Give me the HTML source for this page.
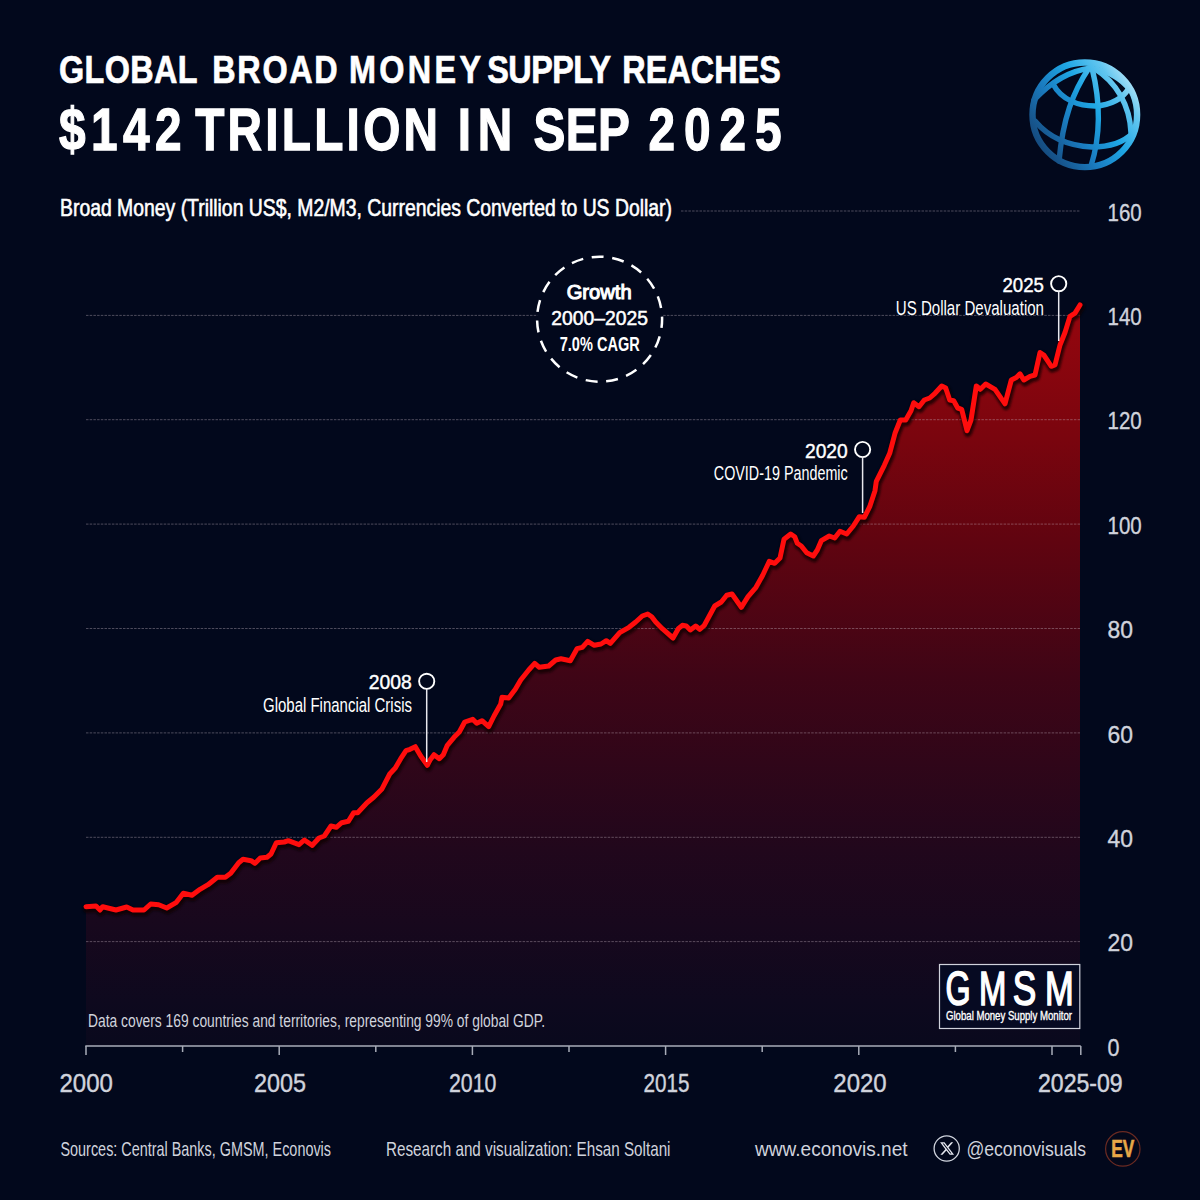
<!DOCTYPE html>
<html><head><meta charset="utf-8"><style>
html,body{margin:0;padding:0;background:#02081c;width:1200px;height:1200px;overflow:hidden}
svg{display:block}
text{font-family:"Liberation Sans", sans-serif}
</style></head><body>
<svg width="1200" height="1200" viewBox="0 0 1200 1200">
<defs>
<filter id="blur1" x="-5%" y="-5%" width="110%" height="110%"><feGaussianBlur stdDeviation="1"/></filter>
<linearGradient id="fillg" x1="0" y1="305" x2="0" y2="1046" gradientUnits="userSpaceOnUse">
<stop offset="0" stop-color="rgb(150,6,14)"/>
<stop offset="0.18" stop-color="rgb(122,5,14)"/>
<stop offset="0.32" stop-color="rgb(96,4,16)"/>
<stop offset="0.5" stop-color="rgb(63,5,22)"/>
<stop offset="0.735" stop-color="rgb(33,7,28)"/>
<stop offset="0.94" stop-color="rgb(14,9,30)"/>
<stop offset="1" stop-color="rgb(9,9,29)"/>
</linearGradient>
<linearGradient id="globeg" x1="1140" y1="75" x2="1030" y2="150" gradientUnits="userSpaceOnUse">
<stop offset="0" stop-color="#d8f2fc"/>
<stop offset="0.2" stop-color="#62c6f0"/>
<stop offset="0.42" stop-color="#1ea6e4"/>
<stop offset="0.65" stop-color="#1a7cc0"/>
<stop offset="0.85" stop-color="#17578f"/>
<stop offset="1" stop-color="#134070"/>
</linearGradient>
</defs>
<rect width="1200" height="1200" fill="#02081c"/>
<path d="M86.0,906.7 L96.0,906.0 L100.0,910.0 L102.7,906.7 L116.0,910.0 L126.7,907.0 L133.0,910.0 L144.0,910.0 L150.7,904.0 L158.7,904.7 L166.7,908.0 L176.0,902.7 L183.3,893.3 L192.0,895.3 L200.0,889.3 L208.0,884.7 L217.3,877.3 L225.3,877.3 L230.7,873.3 L238.7,862.7 L243.0,859.3 L251.0,860.7 L255.0,863.3 L260.3,858.0 L267.0,857.3 L271.0,854.0 L276.3,842.7 L284.3,842.0 L288.3,840.7 L299.0,844.7 L304.3,840.0 L312.3,845.3 L319.0,838.0 L324.3,836.0 L331.0,826.0 L336.3,827.3 L341.7,822.7 L348.3,821.3 L353.7,812.7 L357.7,812.7 L367.0,802.7 L373.7,797.3 L381.7,789.3 L389.7,774.0 L395.3,768.0 L400.7,758.7 L406.0,750.7 L410.0,749.3 L415.3,746.7 L420.7,756.0 L427.3,765.3 L430.0,760.0 L434.0,754.7 L439.3,758.7 L443.3,754.7 L447.3,745.3 L454.0,737.3 L459.3,732.0 L464.7,722.0 L472.7,719.3 L476.7,723.3 L482.0,720.7 L488.7,726.7 L494.0,716.0 L500.7,704.0 L502.0,697.3 L508.7,698.0 L515.3,689.3 L520.7,680.0 L528.7,670.0 L534.7,663.3 L539.3,667.3 L548.7,666.0 L555.7,660.0 L561.0,658.7 L570.3,660.7 L577.0,648.7 L582.3,647.3 L587.7,641.3 L594.3,645.3 L601.0,644.0 L606.3,640.7 L610.3,643.3 L619.7,632.7 L629.0,627.3 L635.7,622.0 L642.3,616.0 L647.7,614.0 L651.7,616.7 L655.7,622.0 L662.3,628.7 L673.0,638.0 L678.3,628.7 L682.3,625.3 L686.3,626.0 L690.3,630.0 L695.7,626.0 L699.7,629.3 L704.3,625.3 L714.7,606.0 L721.3,602.0 L726.7,595.3 L732.0,594.0 L741.3,607.3 L748.0,596.7 L756.0,587.3 L762.7,575.3 L769.3,561.3 L774.7,563.3 L780.0,558.0 L784.0,539.3 L790.7,534.0 L794.7,536.7 L797.3,543.3 L801.3,546.0 L806.7,552.7 L813.3,556.0 L817.3,550.0 L821.3,540.7 L829.3,536.0 L834.7,538.0 L840.0,531.3 L846.7,534.0 L853.3,526.0 L859.3,516.7 L864.3,517.3 L869.7,506.7 L875.0,490.7 L876.3,481.3 L884.3,465.3 L889.7,453.3 L895.0,433.3 L900.3,420.0 L905.7,420.0 L911.0,410.7 L913.7,402.7 L919.0,406.7 L924.3,400.0 L929.7,398.0 L935.0,393.3 L941.7,386.0 L945.7,388.0 L949.7,400.0 L953.7,400.7 L957.7,408.0 L961.7,409.3 L967.0,430.7 L971.0,420.0 L976.3,386.0 L980.3,389.3 L985.7,384.0 L995.0,389.3 L1005.0,403.8 L1011.3,380.0 L1016.3,377.5 L1020.0,373.8 L1023.8,380.0 L1030.0,376.3 L1035.0,375.0 L1040.0,352.5 L1043.8,355.0 L1051.3,366.3 L1055.0,365.0 L1060.0,345.0 L1065.0,332.5 L1070.0,316.3 L1075.0,313.1 L1080.0,305.0 L1080,1046 L86,1046 Z" fill="url(#fillg)"/>
<g stroke="#c8b8c4" stroke-width="1" stroke-dasharray="2.5 1.2" opacity="0.38">
<line x1="681" y1="211" x2="1080" y2="211" /><line x1="86" y1="315.4" x2="1080" y2="315.4" /><line x1="86" y1="419.7" x2="1080" y2="419.7" /><line x1="86" y1="524.1" x2="1080" y2="524.1" /><line x1="86" y1="628.5" x2="1080" y2="628.5" /><line x1="86" y1="732.9" x2="1080" y2="732.9" /><line x1="86" y1="837.3" x2="1080" y2="837.3" /><line x1="86" y1="941.6" x2="1080" y2="941.6" />
</g>
<path d="M86.0,906.7 L96.0,906.0 L100.0,910.0 L102.7,906.7 L116.0,910.0 L126.7,907.0 L133.0,910.0 L144.0,910.0 L150.7,904.0 L158.7,904.7 L166.7,908.0 L176.0,902.7 L183.3,893.3 L192.0,895.3 L200.0,889.3 L208.0,884.7 L217.3,877.3 L225.3,877.3 L230.7,873.3 L238.7,862.7 L243.0,859.3 L251.0,860.7 L255.0,863.3 L260.3,858.0 L267.0,857.3 L271.0,854.0 L276.3,842.7 L284.3,842.0 L288.3,840.7 L299.0,844.7 L304.3,840.0 L312.3,845.3 L319.0,838.0 L324.3,836.0 L331.0,826.0 L336.3,827.3 L341.7,822.7 L348.3,821.3 L353.7,812.7 L357.7,812.7 L367.0,802.7 L373.7,797.3 L381.7,789.3 L389.7,774.0 L395.3,768.0 L400.7,758.7 L406.0,750.7 L410.0,749.3 L415.3,746.7 L420.7,756.0 L427.3,765.3 L430.0,760.0 L434.0,754.7 L439.3,758.7 L443.3,754.7 L447.3,745.3 L454.0,737.3 L459.3,732.0 L464.7,722.0 L472.7,719.3 L476.7,723.3 L482.0,720.7 L488.7,726.7 L494.0,716.0 L500.7,704.0 L502.0,697.3 L508.7,698.0 L515.3,689.3 L520.7,680.0 L528.7,670.0 L534.7,663.3 L539.3,667.3 L548.7,666.0 L555.7,660.0 L561.0,658.7 L570.3,660.7 L577.0,648.7 L582.3,647.3 L587.7,641.3 L594.3,645.3 L601.0,644.0 L606.3,640.7 L610.3,643.3 L619.7,632.7 L629.0,627.3 L635.7,622.0 L642.3,616.0 L647.7,614.0 L651.7,616.7 L655.7,622.0 L662.3,628.7 L673.0,638.0 L678.3,628.7 L682.3,625.3 L686.3,626.0 L690.3,630.0 L695.7,626.0 L699.7,629.3 L704.3,625.3 L714.7,606.0 L721.3,602.0 L726.7,595.3 L732.0,594.0 L741.3,607.3 L748.0,596.7 L756.0,587.3 L762.7,575.3 L769.3,561.3 L774.7,563.3 L780.0,558.0 L784.0,539.3 L790.7,534.0 L794.7,536.7 L797.3,543.3 L801.3,546.0 L806.7,552.7 L813.3,556.0 L817.3,550.0 L821.3,540.7 L829.3,536.0 L834.7,538.0 L840.0,531.3 L846.7,534.0 L853.3,526.0 L859.3,516.7 L864.3,517.3 L869.7,506.7 L875.0,490.7 L876.3,481.3 L884.3,465.3 L889.7,453.3 L895.0,433.3 L900.3,420.0 L905.7,420.0 L911.0,410.7 L913.7,402.7 L919.0,406.7 L924.3,400.0 L929.7,398.0 L935.0,393.3 L941.7,386.0 L945.7,388.0 L949.7,400.0 L953.7,400.7 L957.7,408.0 L961.7,409.3 L967.0,430.7 L971.0,420.0 L976.3,386.0 L980.3,389.3 L985.7,384.0 L995.0,389.3 L1005.0,403.8 L1011.3,380.0 L1016.3,377.5 L1020.0,373.8 L1023.8,380.0 L1030.0,376.3 L1035.0,375.0 L1040.0,352.5 L1043.8,355.0 L1051.3,366.3 L1055.0,365.0 L1060.0,345.0 L1065.0,332.5 L1070.0,316.3 L1075.0,313.1 L1080.0,305.0" fill="none" stroke="#100004" stroke-width="8" stroke-linejoin="round" stroke-linecap="round" transform="translate(1,2.2)" opacity="0.75" filter="url(#blur1)"/>
<path d="M86.0,906.7 L96.0,906.0 L100.0,910.0 L102.7,906.7 L116.0,910.0 L126.7,907.0 L133.0,910.0 L144.0,910.0 L150.7,904.0 L158.7,904.7 L166.7,908.0 L176.0,902.7 L183.3,893.3 L192.0,895.3 L200.0,889.3 L208.0,884.7 L217.3,877.3 L225.3,877.3 L230.7,873.3 L238.7,862.7 L243.0,859.3 L251.0,860.7 L255.0,863.3 L260.3,858.0 L267.0,857.3 L271.0,854.0 L276.3,842.7 L284.3,842.0 L288.3,840.7 L299.0,844.7 L304.3,840.0 L312.3,845.3 L319.0,838.0 L324.3,836.0 L331.0,826.0 L336.3,827.3 L341.7,822.7 L348.3,821.3 L353.7,812.7 L357.7,812.7 L367.0,802.7 L373.7,797.3 L381.7,789.3 L389.7,774.0 L395.3,768.0 L400.7,758.7 L406.0,750.7 L410.0,749.3 L415.3,746.7 L420.7,756.0 L427.3,765.3 L430.0,760.0 L434.0,754.7 L439.3,758.7 L443.3,754.7 L447.3,745.3 L454.0,737.3 L459.3,732.0 L464.7,722.0 L472.7,719.3 L476.7,723.3 L482.0,720.7 L488.7,726.7 L494.0,716.0 L500.7,704.0 L502.0,697.3 L508.7,698.0 L515.3,689.3 L520.7,680.0 L528.7,670.0 L534.7,663.3 L539.3,667.3 L548.7,666.0 L555.7,660.0 L561.0,658.7 L570.3,660.7 L577.0,648.7 L582.3,647.3 L587.7,641.3 L594.3,645.3 L601.0,644.0 L606.3,640.7 L610.3,643.3 L619.7,632.7 L629.0,627.3 L635.7,622.0 L642.3,616.0 L647.7,614.0 L651.7,616.7 L655.7,622.0 L662.3,628.7 L673.0,638.0 L678.3,628.7 L682.3,625.3 L686.3,626.0 L690.3,630.0 L695.7,626.0 L699.7,629.3 L704.3,625.3 L714.7,606.0 L721.3,602.0 L726.7,595.3 L732.0,594.0 L741.3,607.3 L748.0,596.7 L756.0,587.3 L762.7,575.3 L769.3,561.3 L774.7,563.3 L780.0,558.0 L784.0,539.3 L790.7,534.0 L794.7,536.7 L797.3,543.3 L801.3,546.0 L806.7,552.7 L813.3,556.0 L817.3,550.0 L821.3,540.7 L829.3,536.0 L834.7,538.0 L840.0,531.3 L846.7,534.0 L853.3,526.0 L859.3,516.7 L864.3,517.3 L869.7,506.7 L875.0,490.7 L876.3,481.3 L884.3,465.3 L889.7,453.3 L895.0,433.3 L900.3,420.0 L905.7,420.0 L911.0,410.7 L913.7,402.7 L919.0,406.7 L924.3,400.0 L929.7,398.0 L935.0,393.3 L941.7,386.0 L945.7,388.0 L949.7,400.0 L953.7,400.7 L957.7,408.0 L961.7,409.3 L967.0,430.7 L971.0,420.0 L976.3,386.0 L980.3,389.3 L985.7,384.0 L995.0,389.3 L1005.0,403.8 L1011.3,380.0 L1016.3,377.5 L1020.0,373.8 L1023.8,380.0 L1030.0,376.3 L1035.0,375.0 L1040.0,352.5 L1043.8,355.0 L1051.3,366.3 L1055.0,365.0 L1060.0,345.0 L1065.0,332.5 L1070.0,316.3 L1075.0,313.1 L1080.0,305.0" fill="none" stroke="#ff0d0d" stroke-width="5" stroke-linejoin="round" stroke-linecap="round"/>
<g stroke="#a8acb8" stroke-width="1.5">
<line x1="85.3" y1="1046" x2="1080.8" y2="1046"/>
<line x1="86.0" y1="1046" x2="86.0" y2="1055" /><line x1="182.6" y1="1046" x2="182.6" y2="1052" /><line x1="279.2" y1="1046" x2="279.2" y2="1055" /><line x1="375.8" y1="1046" x2="375.8" y2="1052" /><line x1="472.4" y1="1046" x2="472.4" y2="1055" /><line x1="569.0" y1="1046" x2="569.0" y2="1052" /><line x1="665.6" y1="1046" x2="665.6" y2="1055" /><line x1="762.2" y1="1046" x2="762.2" y2="1052" /><line x1="858.8" y1="1046" x2="858.8" y2="1055" /><line x1="955.4" y1="1046" x2="955.4" y2="1052" /><line x1="1052.0" y1="1046" x2="1052.0" y2="1055" /><line x1="1080.8" y1="1046" x2="1080.8" y2="1055" />
</g>
<circle cx="426.7" cy="681.3" r="7.6" fill="none" stroke="#fff" stroke-width="1.9"/><line x1="426.7" y1="688.9" x2="426.7" y2="762" stroke="#e8e8ee" stroke-width="1.5"/>
<circle cx="862.6" cy="449.5" r="7.6" fill="none" stroke="#fff" stroke-width="1.9"/><line x1="862.6" y1="457.1" x2="862.6" y2="513" stroke="#e8e8ee" stroke-width="1.5"/>
<circle cx="1058.7" cy="283.7" r="7.6" fill="none" stroke="#fff" stroke-width="1.9"/><line x1="1058.7" y1="291.3" x2="1058.7" y2="341" stroke="#e8e8ee" stroke-width="1.5"/>
<circle cx="599.6" cy="319.2" r="62.5" fill="#02081c" stroke="#fff" stroke-width="2.5" stroke-dasharray="12 8.67" stroke-dashoffset="3.3"/>
<rect x="939.5" y="964.5" width="140.3" height="64" fill="#060a22" stroke="#d0d2dc" stroke-width="1.2"/>
<g fill="none" stroke="url(#globeg)" stroke-width="5.4" stroke-linecap="round">
<circle cx="1084.8" cy="114.8" r="52.3" stroke-width="6.4"/>
<path d="M1091,68 Q1060,72 1034,100"/>
<path d="M1094,69 C1108,71 1122,79 1130,90"/>
<path d="M1053,84 C1062,101 1080,106 1095,106 C1112,105 1123,98 1129,88"/>
<path d="M1035,121 C1050,139 1070,146 1092,147 C1112,147 1125,141 1133,133"/>
<path d="M1092,68 C1098,92 1103,128 1091,166"/>
<path d="M1089,68 C1073,92 1063,118 1059,161"/>
<path d="M1095,69 C1116,82 1130,105 1131,133"/>
</g>
<circle cx="946.7" cy="1148.5" r="12.6" fill="none" stroke="#d0d4de" stroke-width="1.3"/>
<path transform="translate(939.3,1140.8) scale(0.645)" fill="#e6e8f0" d="M18.244 2.25h3.308l-7.227 8.26 8.502 11.24H16.17l-5.214-6.817L4.99 21.75H1.68l7.73-8.835L1.254 2.25H8.08l4.713 6.231zm-1.161 17.52h1.833L7.084 4.126H5.117z"/>
<circle cx="1122.8" cy="1148.9" r="17.2" fill="#04081a" stroke="#6a2a22" stroke-width="1.2"/>
<text x="1111.2" y="1157.1" font-size="23.5" font-weight="bold" fill="#e8a848" stroke="#e8a848" stroke-width="0.6" textLength="23" lengthAdjust="spacingAndGlyphs" style="font-family:"Liberation Sans", sans-serif">EV</text>
<g transform="translate(59.0,83.0) scale(0.82,1)"><text x="0" y="0" font-size="39.5" font-weight="bold" fill="#ffffff" stroke="#ffffff" stroke-width="0.7" textLength="169.1" lengthAdjust="spacing">GLOBAL</text></g>
<g transform="translate(212.3,83.0) scale(0.82,1)"><text x="0" y="0" font-size="39.5" font-weight="bold" fill="#ffffff" stroke="#ffffff" stroke-width="0.7" textLength="152.9" lengthAdjust="spacing">BROAD</text></g>
<g transform="translate(349.0,83.0) scale(0.82,1)"><text x="0" y="0" font-size="39.5" font-weight="bold" fill="#ffffff" stroke="#ffffff" stroke-width="0.7" textLength="161.0" lengthAdjust="spacing">MONEY</text></g>
<g transform="translate(487.3,83.0) scale(0.82,1)"><text x="0" y="0" font-size="39.5" font-weight="bold" fill="#ffffff" stroke="#ffffff" stroke-width="0.7" textLength="150.9" lengthAdjust="spacing">SUPPLY</text></g>
<g transform="translate(622.3,83.0) scale(0.82,1)"><text x="0" y="0" font-size="39.5" font-weight="bold" fill="#ffffff" stroke="#ffffff" stroke-width="0.7" textLength="193.5" lengthAdjust="spacing">REACHES</text></g>
<g transform="translate(59.0,150.3) scale(0.8,1)"><text x="0" y="0" font-size="59.7" font-weight="bold" fill="#ffffff" stroke="#ffffff" stroke-width="1.3" textLength="153.1" lengthAdjust="spacing">$142</text></g>
<g transform="translate(195.2,150.3) scale(0.8,1)"><text x="0" y="0" font-size="59.7" font-weight="bold" fill="#ffffff" stroke="#ffffff" stroke-width="1.3" textLength="303.5" lengthAdjust="spacing">TRILLION</text></g>
<g transform="translate(457.8,150.3) scale(0.8,1)"><text x="0" y="0" font-size="59.7" font-weight="bold" fill="#ffffff" stroke="#ffffff" stroke-width="1.3" textLength="68.0" lengthAdjust="spacing">IN</text></g>
<g transform="translate(533.5,150.3) scale(0.8,1)"><text x="0" y="0" font-size="59.7" font-weight="bold" fill="#ffffff" stroke="#ffffff" stroke-width="1.3" textLength="120.4" lengthAdjust="spacing">SEP</text></g>
<g transform="translate(648.5,150.3) scale(0.8,1)"><text x="0" y="0" font-size="59.7" font-weight="bold" fill="#ffffff" stroke="#ffffff" stroke-width="1.3" textLength="166.2" lengthAdjust="spacing">2025</text></g>
<text x="60.0" y="216.3" font-size="23.6" font-weight="normal" fill="#ffffff" stroke="#ffffff" stroke-width="0.6" textLength="612.0" lengthAdjust="spacingAndGlyphs" >Broad Money (Trillion US$, M2/M3, Currencies Converted to US Dollar)</text>
<text x="1107.5" y="220.6" font-size="24.5" font-weight="normal" fill="#d0d3dc" stroke="#d0d3dc" stroke-width="0.35" textLength="34.2" lengthAdjust="spacingAndGlyphs" >160</text>
<text x="1107.5" y="325.0" font-size="24.5" font-weight="normal" fill="#d0d3dc" stroke="#d0d3dc" stroke-width="0.35" textLength="34.2" lengthAdjust="spacingAndGlyphs" >140</text>
<text x="1107.5" y="429.3" font-size="24.5" font-weight="normal" fill="#d0d3dc" stroke="#d0d3dc" stroke-width="0.35" textLength="34.2" lengthAdjust="spacingAndGlyphs" >120</text>
<text x="1107.5" y="533.7" font-size="24.5" font-weight="normal" fill="#d0d3dc" stroke="#d0d3dc" stroke-width="0.35" textLength="34.2" lengthAdjust="spacingAndGlyphs" >100</text>
<text x="1107.5" y="638.1" font-size="24.5" font-weight="normal" fill="#d0d3dc" stroke="#d0d3dc" stroke-width="0.35" textLength="25.5" lengthAdjust="spacingAndGlyphs" >80</text>
<text x="1107.5" y="742.5" font-size="24.5" font-weight="normal" fill="#d0d3dc" stroke="#d0d3dc" stroke-width="0.35" textLength="25.5" lengthAdjust="spacingAndGlyphs" >60</text>
<text x="1107.5" y="846.9" font-size="24.5" font-weight="normal" fill="#d0d3dc" stroke="#d0d3dc" stroke-width="0.35" textLength="25.5" lengthAdjust="spacingAndGlyphs" >40</text>
<text x="1107.5" y="951.2" font-size="24.5" font-weight="normal" fill="#d0d3dc" stroke="#d0d3dc" stroke-width="0.35" textLength="25.5" lengthAdjust="spacingAndGlyphs" >20</text>
<text x="1107.5" y="1055.6" font-size="24.5" font-weight="normal" fill="#d0d3dc" stroke="#d0d3dc" stroke-width="0.35" textLength="12.0" lengthAdjust="spacingAndGlyphs" >0</text>
<text x="59.5" y="1091.7" font-size="25.7" font-weight="normal" fill="#d0d3dc" stroke="#d0d3dc" stroke-width="0.4" textLength="53.5" lengthAdjust="spacingAndGlyphs" >2000</text>
<text x="254.0" y="1091.7" font-size="25.7" font-weight="normal" fill="#d0d3dc" stroke="#d0d3dc" stroke-width="0.4" textLength="52.0" lengthAdjust="spacingAndGlyphs" >2005</text>
<text x="449.0" y="1091.7" font-size="25.7" font-weight="normal" fill="#d0d3dc" stroke="#d0d3dc" stroke-width="0.4" textLength="47.5" lengthAdjust="spacingAndGlyphs" >2010</text>
<text x="643.5" y="1091.7" font-size="25.7" font-weight="normal" fill="#d0d3dc" stroke="#d0d3dc" stroke-width="0.4" textLength="46.0" lengthAdjust="spacingAndGlyphs" >2015</text>
<text x="833.3" y="1091.7" font-size="25.7" font-weight="normal" fill="#d0d3dc" stroke="#d0d3dc" stroke-width="0.4" textLength="53.4" lengthAdjust="spacingAndGlyphs" >2020</text>
<text x="1038.0" y="1091.7" font-size="25.7" font-weight="normal" fill="#d0d3dc" stroke="#d0d3dc" stroke-width="0.5" textLength="84.7" lengthAdjust="spacingAndGlyphs" >2025-09</text>
<text x="88.0" y="1027.3" font-size="18.3" font-weight="normal" fill="#d0d3dc" textLength="457.0" lengthAdjust="spacingAndGlyphs" >Data covers 169 countries and territories, representing 99% of global GDP.</text>
<text x="368.7" y="689.2" font-size="19.5" font-weight="normal" fill="#ffffff" stroke="#ffffff" stroke-width="0.4" textLength="43.0" lengthAdjust="spacingAndGlyphs" >2008</text>
<text x="263.0" y="711.7" font-size="19.9" font-weight="normal" fill="#ffffff" textLength="149.0" lengthAdjust="spacingAndGlyphs" >Global Financial Crisis</text>
<text x="805.0" y="457.7" font-size="19.5" font-weight="normal" fill="#ffffff" stroke="#ffffff" stroke-width="0.4" textLength="42.7" lengthAdjust="spacingAndGlyphs" >2020</text>
<text x="713.8" y="480.2" font-size="19.9" font-weight="normal" fill="#ffffff" textLength="133.9" lengthAdjust="spacingAndGlyphs" >COVID-19 Pandemic</text>
<text x="1002.5" y="292.0" font-size="19.5" font-weight="normal" fill="#ffffff" stroke="#ffffff" stroke-width="0.4" textLength="41.5" lengthAdjust="spacingAndGlyphs" >2025</text>
<text x="895.8" y="314.7" font-size="19.9" font-weight="normal" fill="#ffffff" textLength="148.2" lengthAdjust="spacingAndGlyphs" >US Dollar Devaluation</text>
<text x="566.7" y="299.2" font-size="20.6" font-weight="normal" fill="#ffffff" stroke="#ffffff" stroke-width="1.1" textLength="65.0" lengthAdjust="spacingAndGlyphs" >Growth</text>
<text x="551.3" y="325.0" font-size="19.4" font-weight="normal" fill="#ffffff" stroke="#ffffff" stroke-width="0.5" textLength="96.7" lengthAdjust="spacingAndGlyphs" >2000–2025</text>
<text x="559.7" y="350.8" font-size="20.5" font-weight="bold" fill="#ffffff" textLength="80.0" lengthAdjust="spacingAndGlyphs" >7.0% CAGR</text>
<text x="60.5" y="1156.3" font-size="20.7" font-weight="normal" fill="#d0d3dc" textLength="270.5" lengthAdjust="spacingAndGlyphs" >Sources: Central Banks, GMSM, Econovis</text>
<text x="386.0" y="1156.3" font-size="20.7" font-weight="normal" fill="#d0d3dc" textLength="284.5" lengthAdjust="spacingAndGlyphs" >Research and visualization: Ehsan Soltani</text>
<text x="755.0" y="1156.3" font-size="20.7" font-weight="normal" fill="#d0d3dc" textLength="152.6" lengthAdjust="spacingAndGlyphs" >www.econovis.net</text>
<text x="966.4" y="1156.3" font-size="20.7" font-weight="normal" fill="#d0d3dc" textLength="119.6" lengthAdjust="spacingAndGlyphs" >@econovisuals</text>
<text x="945.5" y="1005.0" font-size="48.0" font-weight="normal" fill="#ffffff" stroke="#ffffff" stroke-width="1.6" textLength="25.1" lengthAdjust="spacingAndGlyphs" >G</text>
<text x="979.0" y="1005.0" font-size="48.0" font-weight="normal" fill="#ffffff" stroke="#ffffff" stroke-width="1.6" textLength="27.4" lengthAdjust="spacingAndGlyphs" >M</text>
<text x="1012.7" y="1005.0" font-size="48.0" font-weight="normal" fill="#ffffff" stroke="#ffffff" stroke-width="1.6" textLength="23.5" lengthAdjust="spacingAndGlyphs" >S</text>
<text x="1045.0" y="1005.0" font-size="48.0" font-weight="normal" fill="#ffffff" stroke="#ffffff" stroke-width="1.6" textLength="28.7" lengthAdjust="spacingAndGlyphs" >M</text>
<text x="946.0" y="1019.8" font-size="12.3" font-weight="normal" fill="#ffffff" stroke="#ffffff" stroke-width="0.35" textLength="126.0" lengthAdjust="spacingAndGlyphs" >Global Money Supply Monitor</text>
</svg>
</body></html>
